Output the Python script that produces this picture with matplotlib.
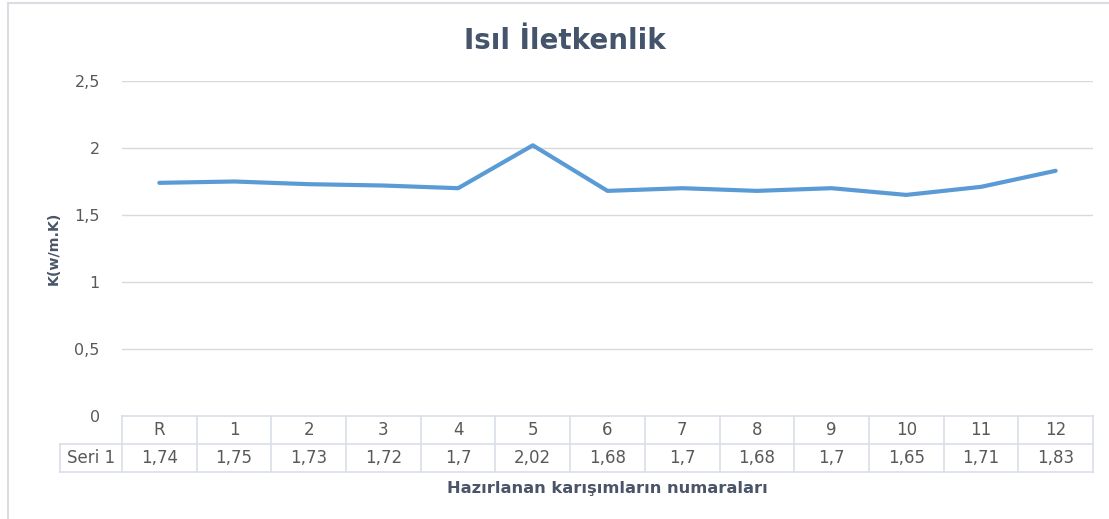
import matplotlib
matplotlib.use("Agg")
import matplotlib.pyplot as plt
from matplotlib.lines import Line2D

plt.rcParams['font.family'] = ['DejaVu Sans']

# Data
categories = ["R", "1", "2", "3", "4", "5", "6", "7", "8", "9", "10", "11", "12"]
values = [1.74, 1.75, 1.73, 1.72, 1.70, 2.02, 1.68, 1.70, 1.68, 1.70, 1.65, 1.71, 1.83]
series_name = "Seri 1"
y_ticks = [0, 0.5, 1, 1.5, 2, 2.5]
y_tick_labels = ["0", "0,5", "1", "1,5", "2", "2,5"]

W, H = 1109, 519
fig = plt.figure(figsize=(W / 100, H / 100), dpi=100)

# plot area in pixel coordinates
left_px, right_px, top_px, bottom_px = 122, 1093, 81, 416
ax = fig.add_axes([left_px / W, (H - bottom_px) / H,
                   (right_px - left_px) / W, (bottom_px - top_px) / H])

text_col = "#595959"
grid_col = "#D9D9D9"
table_col = "#D9DEE8"
line_col = "#5B9BD5"

x = list(range(len(categories)))
ax.plot(x, values, color=line_col, lw=3.0, solid_capstyle='round', zorder=3)

ax.set_xlim(-0.5, len(categories) - 0.5)
ax.set_ylim(0, 2.5)
ax.set_yticks(y_ticks)
ax.set_yticklabels(y_tick_labels, color=text_col, fontsize=11.5)
ax.tick_params(axis='y', length=0, pad=16)
ax.set_xticks([])
for s in ax.spines.values():
    s.set_visible(False)
for t in y_ticks[1:]:
    ax.axhline(t, color=grid_col, lw=1, zorder=1)

# data table below the plot
trans = ax.get_xaxis_transform()
px_h = bottom_px - top_px
row1_bot = -28 / px_h
row2_bot = -56 / px_h
col_w_px = (right_px - left_px) / len(categories)
hdr_left = -0.5 - 62 / col_w_px
xmax = len(categories) - 0.5

lines = [
    ([-0.5, xmax], [0, 0]),
    ([hdr_left, xmax], [row1_bot, row1_bot]),
    ([hdr_left, xmax], [row2_bot, row2_bot]),
    ([hdr_left, hdr_left], [row1_bot, row2_bot]),
]
for i in range(len(categories) + 1):
    lines.append(([i - 0.5, i - 0.5], [0, row2_bot]))
for xs, ys in lines:
    ax.add_line(Line2D(xs, ys, transform=trans, color=table_col, lw=1.2,
                       clip_on=False, zorder=2))

for i, (c, v) in enumerate(zip(categories, values)):
    ax.text(i, row1_bot / 2, c, transform=trans, ha='center', va='center',
            color=text_col, fontsize=12)
    ax.text(i, (row1_bot + row2_bot) / 2, f"{v:g}".replace(".", ","),
            transform=trans, ha='center', va='center', color=text_col, fontsize=12)
ax.text((hdr_left - 0.5) / 2, (row1_bot + row2_bot) / 2, series_name,
        transform=trans, ha='center', va='center', color=text_col, fontsize=12)

# titles
fig.text(565 / W, 1 - 49 / H, "Isıl İletkenlik", ha='center', va='baseline',
         fontsize=20, fontweight='bold', color="#44546A")
fig.text(607 / W, 1 - 493 / H, "Hazırlanan karışımların numaraları",
         ha='center', va='baseline', fontsize=11.7, fontweight='bold', color="#4A5568")
fig.text(54 / W, 1 - 248 / H, "K(w/m.K)", ha='center', va='center',
         rotation=90, fontsize=10.3, fontweight='bold', color="#4A5568")

# chart area border
fig.add_artist(Line2D([8 / W, 8 / W], [0, 1 - 3 / H], transform=fig.transFigure,
                      color="#DADDE2", lw=1.5))
fig.add_artist(Line2D([8 / W, 1], [1 - 3 / H, 1 - 3 / H], transform=fig.transFigure,
                      color="#DADDE2", lw=1.5))

fig.savefig("out.png", dpi=100, facecolor="white")
